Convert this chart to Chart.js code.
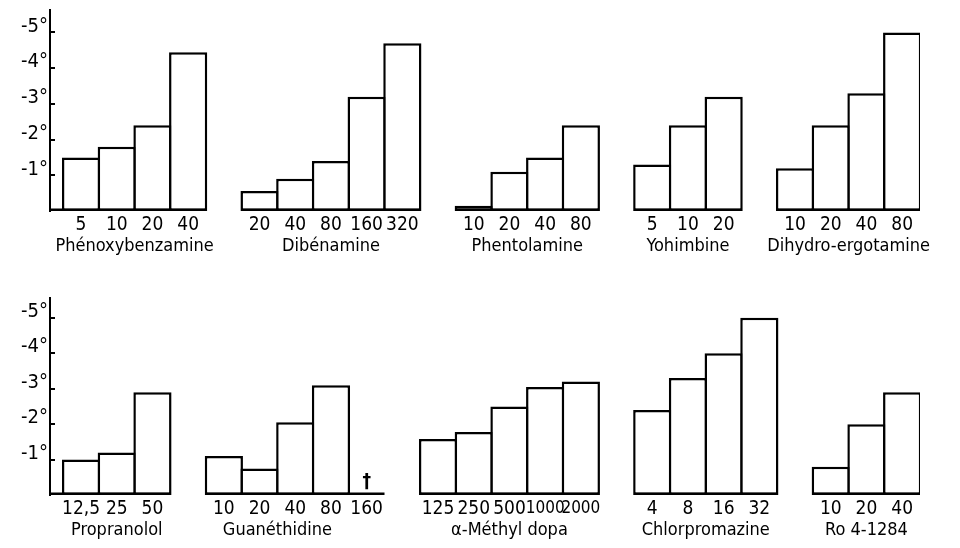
<!DOCTYPE html>
<html lang="fr">
<head>
<meta charset="utf-8">
<title>Hypothermie</title>
<script src="https://cdn.jsdelivr.net/npm/chart.js@4.4.1/dist/chart.umd.min.js"></script>
<style>
    body { margin: 0; background: #fff; overflow: hidden; }
    canvas { position: absolute; left: 0; }
    #rangee1 { top: -3px; }
    #rangee2 { top: 263px; }
</style>
</head>
<body>
<canvas id="rangee1" width="960" height="266"></canvas>
<canvas id="rangee2" width="960" height="285"></canvas>
<script>
// Doses et chute de température (en degrés)

// Rangée du haut
const phenoxyDoses = ['5', '10', '20', '40'];
const phenoxyValeurs = [1.5, 1.8, 2.4, 4.45];
const dibenDoses = ['20', '40', '80', '160', '320'];
const dibenValeurs = [0.56, 0.9, 1.4, 3.2, 4.7];
const phentoDoses = ['10', '20', '40', '80'];
const phentoValeurs = [0.15, 1.1, 1.5, 2.4];
const yohimDoses = ['5', '10', '20'];
const yohimValeurs = [1.3, 2.4, 3.2];
const dihydroDoses = ['10', '20', '40', '80'];
const dihydroValeurs = [1.2, 2.4, 3.3, 5.0];

// Rangée du bas
const propraDoses = ['12,5', '25', '50'];
const propraValeurs = [1.0, 1.2, 2.9];
const guanDoses = ['10', '20', '40', '80', '160'];
const guanValeurs = [1.1, 0.75, 2.05, 3.1, null]; // 160 : mort (†)
const methylDoses = ['125', '250', '500', '1000', '2000'];
const methylValeurs = [1.58, 1.78, 2.5, 3.05, 3.2];
const chlorDoses = ['4', '8', '16', '32'];
const chlorValeurs = [2.4, 3.3, 4.0, 5.0];
const roDoses = ['10', '20', '40'];
const roValeurs = [0.8, 2.0, 2.9];

const yTicks = [1, 2, 3, 4, 5];

const groupesHaut = [
    { nom: 'Phénoxybenzamine', doses: phenoxyDoses, valeurs: phenoxyValeurs },
    { nom: 'Dibénamine', doses: dibenDoses, valeurs: dibenValeurs },
    { nom: 'Phentolamine', doses: phentoDoses, valeurs: phentoValeurs },
    { nom: 'Yohimbine', doses: yohimDoses, valeurs: yohimValeurs },
    { nom: 'Dihydro-ergotamine', doses: dihydroDoses, valeurs: dihydroValeurs },
];
const groupesBas = [
    { nom: 'Propranolol', doses: propraDoses, valeurs: propraValeurs },
    { nom: 'Guanéthidine', doses: guanDoses, valeurs: guanValeurs },
    { nom: 'α-Méthyl dopa', doses: methylDoses, valeurs: methylValeurs },
    { nom: 'Chlorpromazine', doses: chlorDoses, valeurs: chlorValeurs },
    { nom: 'Ro 4-1284', doses: roDoses, valeurs: roValeurs },
];

const police = "'DejaVu Sans Condensed', 'DejaVu Sans', sans-serif";
const trait = 2.5; // épaisseur des traits

function construireRangee(canvasId, groupes, yMax, padTop, padBottom) {
    const points = [];
    const doses = new Map(); // position -> dose
    const noms = new Map();  // centre du groupe -> nom
    const segments = [];
    const morts = [];
    let slot = 0;

    groupes.forEach(g => {
        const debut = slot;
        let nbBarres = 0;
        g.doses.forEach((d, i) => {
            if (g.valeurs[i] !== null) {
                points.push({ x: slot, y: g.valeurs[i] });
                nbBarres++;
            } else {
                morts.push(slot);
            }
            doses.set(slot, d);
            slot++;
        });
        segments.push({ debut: debut, fin: slot - 1 });
        noms.set(debut + (nbBarres - 1) / 2, g.nom); // centré sous ses barres
        slot++; // une case vide entre deux groupes
    });

    // ligne de base sous les groupes, petits traits de l'axe y, croix
    const traits = {
        id: 'traits',
        afterDatasetsDraw(chart) {
            const ctx = chart.ctx;
            const xs = chart.scales.x;
            const ys = chart.scales.y;
            const y0 = ys.getPixelForValue(0);
            const gaucheAxe = chart.chartArea.left;
            ctx.save();
            ctx.strokeStyle = '#000';
            ctx.lineWidth = trait;
            segments.forEach((s, i) => {
                const gauche = i === 0 ? gaucheAxe : xs.getPixelForValue(s.debut - 0.5);
                ctx.beginPath();
                ctx.moveTo(gauche, y0 - trait / 2);
                ctx.lineTo(xs.getPixelForValue(s.fin + 0.5), y0 - trait / 2);
                ctx.stroke();
            });
            ctx.lineWidth = 2;
            yTicks.forEach(v => {
                const y = Math.round(ys.getPixelForValue(v));
                ctx.beginPath();
                ctx.moveTo(gaucheAxe, y);
                ctx.lineTo(gaucheAxe + 5, y);
                ctx.stroke();
            });
            ctx.fillStyle = '#000';
            ctx.font = 'bold 19px ' + police;
            ctx.textAlign = 'center';
            ctx.textBaseline = 'bottom';
            morts.forEach(m => {
                ctx.fillText('†', xs.getPixelForValue(m), y0 - 3);
            });
            ctx.restore();
        }
    };

    const axeX = (etiquettes, hauteur, pad, taille) => ({
        type: 'linear',
        position: 'bottom',
        offset: false,
        min: -0.87,
        max: 23.5,
        afterBuildTicks: s => {
            s.ticks = [...etiquettes.keys()].sort((a, b) => a - b).map(v => ({ value: v }));
        },
        afterFit: s => { s.height = hauteur; },
        ticks: {
            autoSkip: false,
            maxRotation: 0,
            padding: pad,
            color: '#000',
            // les doses à 4 chiffres sont plus serrées
            font: c => {
                const lab = c.tick ? String(etiquettes.get(c.tick.value)) : '';
                return { family: police, size: /^\d{4}$/.test(lab) ? 17 : taille };
            },
            callback: v => etiquettes.get(v),
        },
        grid: { display: false, drawTicks: false },
        border: { display: false },
    });

    const ctx = document.getElementById(canvasId).getContext('2d');
    return new Chart(ctx, {
        type: 'bar',
        data: {
            datasets: [{
                data: points,
                backgroundColor: '#fff',
                borderColor: '#000',
                borderWidth: trait,
                borderSkipped: false,
                barPercentage: 1.07, // les bords de deux barres voisines se recouvrent
                categoryPercentage: 1,
            }],
        },
        options: {
            responsive: false,
            animation: false,
            layout: { padding: { top: padTop, bottom: padBottom, left: 0, right: 40 } },
            plugins: { legend: { display: false }, tooltip: { enabled: false } },
            scales: {
                x: axeX(doses, 24, 3, 19),
                x2: axeX(noms, 28, 1, 18),
                y: {
                    min: 0,
                    max: yMax,
                    afterBuildTicks: s => { s.ticks = yTicks.map(v => ({ value: v })); },
                    afterFit: s => { s.width = 50; },
                    ticks: {
                        padding: 2,
                        labelOffset: -6,
                        color: '#000',
                        font: { family: police, size: 20, lineHeight: 1 },
                        callback: v => '-' + v + '°',
                    },
                    grid: { drawOnChartArea: false, drawTicks: false },
                    border: { display: true, color: '#000', width: 2 },
                },
            },
        },
        plugins: [traits],
    });
}

construireRangee('rangee1', groupesHaut, 5.63, 13, 0);
construireRangee('rangee2', groupesBas, 5.56, 35, 1);
</script>
</body>
</html>
